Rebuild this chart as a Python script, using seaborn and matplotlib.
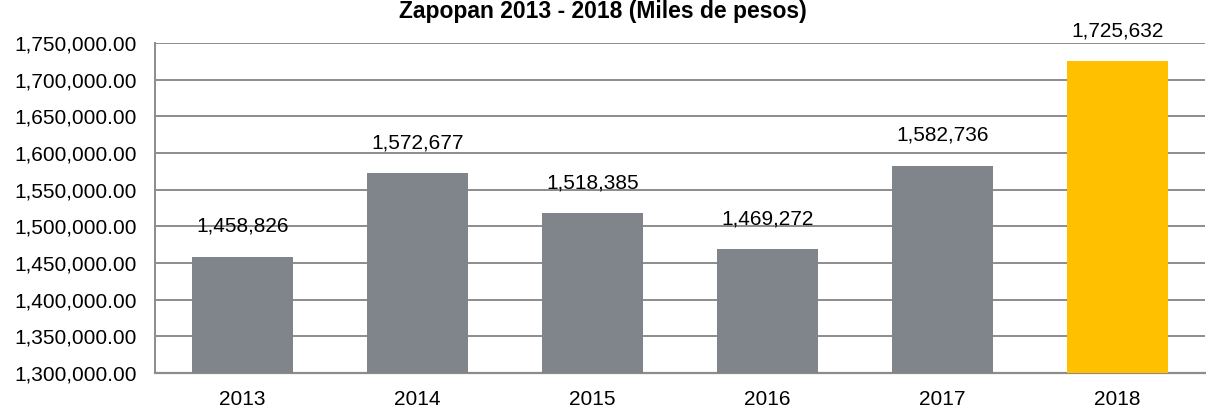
import matplotlib
matplotlib.use("Agg")
from matplotlib import pyplot as plt
import matplotlib.ticker as mticker
import seaborn as sns
import pandas as pd

# datos: ingresos Zapopan (miles de pesos)
anios = ["2013", "2014", "2015", "2016", "2017", "2018"]
valores = [1458826, 1572677, 1518385, 1469272, 1582736, 1725632]
colores = ["#80848B", "#80848B", "#80848B", "#80848B", "#80848B", "#FFC000"]

df = pd.DataFrame({"anio": anios, "valor": valores})

sns.set_style("white")
plt.rcParams['font.family'] = ['Liberation Sans', 'DejaVu Sans']
plt.rcParams['text.color'] = 'black'
plt.rcParams['xtick.labelcolor'] = 'black'
plt.rcParams['ytick.labelcolor'] = 'black'

fig = plt.figure(figsize=(12.06, 4.09), dpi=100)
ax = fig.add_axes([155 / 1206, 36 / 409, 1050 / 1206, 330 / 409])

sns.barplot(data=df, x="anio", y="valor", hue="anio", palette=dict(zip(anios, colores)),
            legend=False, width=0.58, saturation=1, linewidth=0, edgecolor='none',
            ax=ax, zorder=3)

ax.set_ylim(1300000, 1750000)
ax.yaxis.set_major_locator(mticker.MultipleLocator(50000))
ax.yaxis.set_major_formatter(mticker.FuncFormatter(lambda v, p: f"{v:,.2f}"))
ax.grid(axis='y', color='#8c8c8c', linewidth=1.4, zorder=0)
ax.set_axisbelow(True)

for s in ['top', 'right']:
    ax.spines[s].set_visible(False)
ax.spines['left'].set_color('#8c8c8c')
ax.spines['left'].set_linewidth(1.4)
ax.spines['bottom'].set_color('#8c8c8c')
ax.spines['bottom'].set_linewidth(1.6)

ax.tick_params(axis='y', length=5, width=1.4, color='#8c8c8c', labelsize=15, pad=8,
               labelcolor='black')
ax.tick_params(axis='x', length=0, labelsize=15, pad=12, labelcolor='black')
ax.set_xlabel('')
ax.set_ylabel('')

for i, v in enumerate(valores):
    ax.annotate(f"{v:,}", (i, v), xytext=(0, 15), textcoords='offset points',
                ha='center', va='bottom', fontsize=15, color='black', annotation_clip=False)

fig.text(0.5, 0.999, "Zapopan 2013 - 2018 (Miles de pesos)", ha='center', va='top',
         fontsize=16.5, fontweight='bold', color='black')

fig.savefig("out.png", dpi=100)
